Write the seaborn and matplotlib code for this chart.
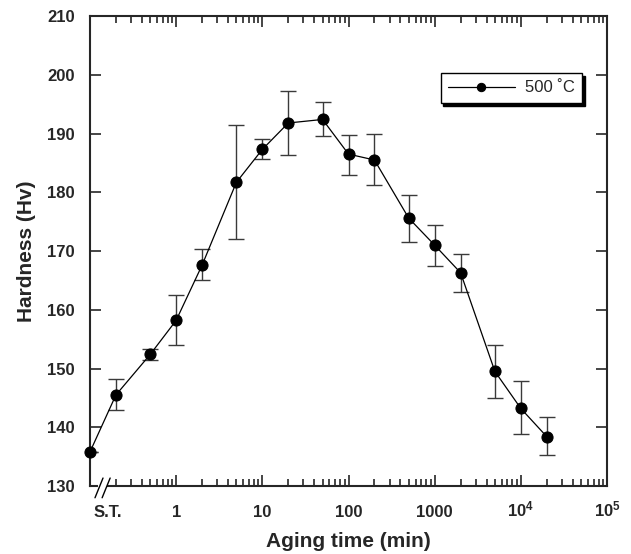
import numpy as np
import pandas as pd
import matplotlib
matplotlib.use("Agg")
import matplotlib.pyplot as plt
import matplotlib.ticker as mticker
import seaborn as sns

# aging time in minutes; the solution-treated (S.T.) state sits at the left axis edge (0.1)
aging_time = [0.1, 0.2, 0.5, 1, 2, 5, 10, 20, 50, 100, 200, 500, 1000, 2000, 5000, 1e4, 2e4]
hardness = [135.8, 145.5, 152.4, 158.2, 167.6, 181.7, 187.3, 191.8, 192.4, 186.5, 185.5,
            175.6, 171.0, 166.3, 149.5, 143.2, 138.4]
err_low = [135.8, 142.9, 151.5, 154.0, 165.1, 172.0, 185.7, 186.3, 189.5, 183.0, 181.2,
           171.5, 167.5, 163.0, 145.0, 138.8, 135.2]
err_high = [135.8, 148.2, 153.4, 162.5, 170.4, 191.5, 189.0, 197.3, 195.4, 189.8, 190.0,
            179.6, 174.5, 169.5, 154.0, 147.9, 141.7]
series_label = "500 \u02daC"

x_ticks = [1, 10, 100, 1000, 1e4, 1e5]
x_ticklabels = ["1", "10", "100", "1000", r"$\mathbf{10^4}$", r"$\mathbf{10^5}$"]
y_ticks = [130, 140, 150, 160, 170, 180, 190, 200, 210]


def main():
    sns.set_style("ticks")
    plt.rcParams["font.family"] = ["Liberation Sans", "DejaVu Sans"]
    plt.rcParams["font.weight"] = "bold"
    plt.rcParams["mathtext.fontset"] = "custom"
    plt.rcParams["mathtext.bf"] = "Liberation Sans:bold"
    plt.rcParams["mathtext.rm"] = "Liberation Sans"

    df = pd.DataFrame({"time": aging_time, "hv": hardness,
                       "lo": err_low, "hi": err_high})

    fig = plt.figure(figsize=(6.31, 5.54), dpi=100)
    ax = fig.add_axes([0.1426, 0.1227, 0.8194, 0.8483])

    yerr = np.vstack([df["hv"] - df["lo"], df["hi"] - df["hv"]])
    ax.errorbar(df["time"], df["hv"], yerr=yerr, fmt="none", ecolor="#3a3a3a",
                elinewidth=1.0, capsize=5.5, capthick=1.0, zorder=1)
    sns.lineplot(data=df, x="time", y="hv", ax=ax, color="black", linewidth=0.9,
                 marker="o", markersize=8, markeredgecolor="black",
                 markerfacecolor="black", label=series_label, zorder=3, clip_on=False)

    ax.set_xscale("log")
    ax.set_xlim(0.1, 1e5)
    ax.set_ylim(130, 210)
    ax.set_xticks(x_ticks)
    ax.set_xticklabels(x_ticklabels)
    ax.xaxis.set_minor_locator(mticker.LogLocator(base=10, subs=np.arange(2, 10)))
    ax.xaxis.set_minor_formatter(mticker.NullFormatter())
    ax.set_yticks(y_ticks)

    ax.tick_params(which="both", direction="in", top=True, right=True, width=1.2,
                   labelsize=12)
    ax.tick_params(axis="x", pad=22)
    ax.tick_params(axis="y", pad=11)
    ax.tick_params(which="major", length=8)
    ax.tick_params(which="minor", length=5)
    for lbl in ax.get_xticklabels():
        lbl.set_fontweight("bold")
        lbl.set_verticalalignment("baseline")
    for lbl in ax.get_yticklabels():
        lbl.set_fontweight("bold")
    for s in ax.spines.values():
        s.set_linewidth(1.5)

    ax.set_xlabel("Aging time (min)", fontsize=15, fontweight="bold", labelpad=9)
    ax.set_ylabel("Hardness (Hv)", fontsize=15, fontweight="bold", labelpad=8)

    # S.T. label and axis-break marks on the bottom spine
    trans = ax.get_xaxis_transform()
    ax.text(0.16, -0.066, "S.T.", transform=trans, ha="center", va="baseline",
            fontsize=12, fontweight="bold")
    ax.fill_between([0.016, 0.032], -0.01, 0.01, transform=ax.transAxes, color="white",
                    zorder=5, clip_on=False, linewidth=0)
    for x0 in (0.0097, 0.0235):
        ax.plot([x0, x0 + 0.0155], [-0.025, 0.017], transform=ax.transAxes,
                color="black", linewidth=1.0, clip_on=False, zorder=6)

    leg = ax.legend(loc="upper right", bbox_to_anchor=(0.952, 0.879), borderaxespad=0,
                    fancybox=False, shadow={"color": "black", "alpha": 1},
                    edgecolor="black", framealpha=1, handlelength=4.0,
                    borderpad=0.45, markerscale=0.75, handletextpad=0.6,
                    prop={"size": 12, "weight": "normal"})
    leg.get_frame().set_linewidth(1.0)

    fig.savefig("out.png", dpi=100)
    plt.close(fig)


if __name__ == "__main__":
    main()
